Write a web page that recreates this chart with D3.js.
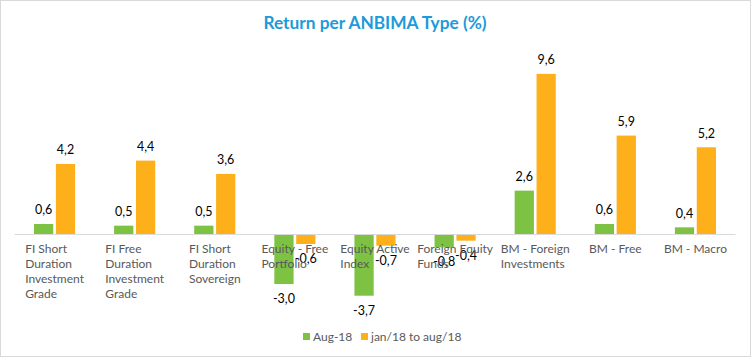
<!DOCTYPE html>
<html>
<head>
<meta charset="utf-8">
<script src="https://cdn.jsdelivr.net/npm/d3@7"></script>
<style>
  html, body { margin: 0; padding: 0; background: #fff; }
  svg { display: block; }
</style>
</head>
<body>
<svg id="chart" width="751" height="357"></svg>
<script>
const categories = [
  "FI Short Duration Investment Grade",
  "FI Free Duration Investment Grade",
  "FI Short Duration Sovereign",
  "Equity - Free Portfolio",
  "Equity Active Index",
  "Foreign Equity Funds",
  "BM - Foreign Investments",
  "BM - Free",
  "BM - Macro"
];
const categoryLines = [
  ["FI Short", "Duration", "Investment", "Grade"],
  ["FI Free", "Duration", "Investment", "Grade"],
  ["FI Short", "Duration", "Sovereign"],
  ["Equity - Free", "Portfolio"],
  ["Equity Active", "Index"],
  ["Foreign Equity", "Funds"],
  ["BM - Foreign", "Investments"],
  ["BM - Free"],
  ["BM - Macro"]
];
const seriesNames = ["Aug-18", "jan/18 to aug/18"];
const aug18 = [0.6, 0.5, 0.5, -3.0, -3.7, -0.8, 2.6, 0.6, 0.4];
const janToAug18 = [4.2, 4.4, 3.6, -0.6, -0.7, -0.4, 9.6, 5.9, 5.2];
const seriesColors = ["#7dc242", "#fdb01a"];
const title = "Return per ANBIMA Type (%)";

const W = 751, H = 357;
const svg = d3.select("#chart");
const FONT = "Lato, 'Liberation Sans', sans-serif";

svg.append("rect").attr("x", 0.5).attr("y", 0.5).attr("width", W - 1).attr("height", H - 1)
  .attr("fill", "#fff").attr("stroke", "#d9d9d9");

svg.append("text").attr("x", 375).attr("y", 29).attr("text-anchor", "middle")
  .attr("font-family", FONT).attr("font-weight", "bold").attr("font-size", 17.3)
  .attr("fill", "#1c9ad9").text(title);

const x0 = d3.scaleBand().domain(categories).range([14.5, 735.5]);
const seriesKeys = [0, 1];
const x1 = d3.scaleBand().domain(seriesKeys).range([19.5, x0.bandwidth() - 19.5]).paddingInner(0.12);
const y = d3.scaleLinear().domain([-4, 10]).range([234 + 4 * 16.68, 234 - 10 * 16.68]);

const data = categories.map((c, i) => ({ cat: c, vals: [aug18[i], janToAug18[i]] }));

const groups = svg.append("g").selectAll("g").data(data).join("g")
  .attr("transform", d => `translate(${x0(d.cat)},0)`);

groups.selectAll("rect").data(d => d.vals.map((v, k) => ({ v, k }))).join("rect")
  .attr("x", d => x1(d.k))
  .attr("width", x1.bandwidth())
  .attr("y", d => y(Math.max(0, d.v)))
  .attr("height", d => Math.abs(y(d.v) - y(0)))
  .attr("fill", d => seriesColors[d.k]);

// axis line
svg.append("line").attr("x1", x0.range()[0]).attr("x2", x0.range()[1])
  .attr("y1", y(0) + 0.5).attr("y2", y(0) + 0.5).attr("stroke", "#d9d9d9").attr("stroke-width", 1);

// category labels
const catG = svg.append("g");
categories.forEach((c, i) => {
  const t = catG.append("text").attr("font-family", FONT).attr("font-size", 12)
    .attr("fill", "#595959");
  categoryLines[i].forEach((ln, j) => {
    t.append("tspan").attr("x", 0).attr("y", 253 + j * 15).text(ln);
  });
  let maxW = 0;
  t.selectAll("tspan").each(function () { maxW = Math.max(maxW, this.getComputedTextLength()); });
  const cx = x0(c) + x0.bandwidth() / 2;
  t.attr("transform", `translate(${cx - maxW / 2},0)`);
});

// value labels
groups.selectAll("text.val").data(d => d.vals.map((v, k) => ({ v, k }))).join("text")
  .attr("class", "val")
  .attr("x", d => x1(d.k) + x1.bandwidth() / 2)
  .attr("y", d => d.v >= 0 ? y(d.v) - 9.5 : y(d.v) + 19)
  .attr("text-anchor", "middle")
  .attr("font-family", FONT).attr("font-size", 12.5).attr("fill", "#000")
  .text(d => d3.format(".1f")(d.v).replace("−", "-").replace(".", ","));

// legend
const legendX = [303, 361];
const lg = svg.append("g");
seriesNames.forEach((n, k) => {
  lg.append("rect").attr("x", legendX[k]).attr("y", 333).attr("width", 7).attr("height", 7)
    .attr("fill", seriesColors[k]);
  lg.append("text").attr("x", legendX[k] + 10).attr("y", 340.5)
    .attr("font-family", FONT).attr("font-size", 12).attr("fill", "#595959").text(n);
});
</script>
</body>
</html>
